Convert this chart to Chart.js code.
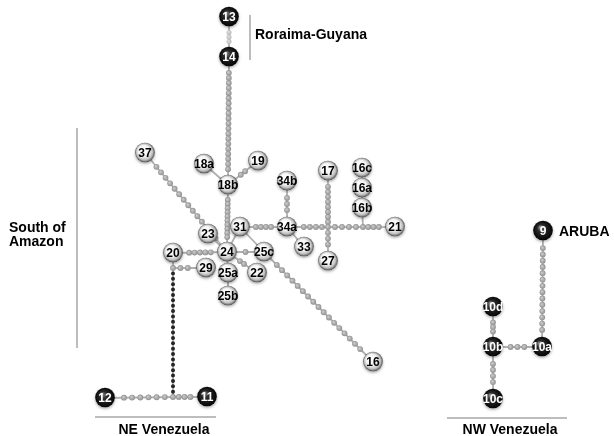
<!DOCTYPE html>
<html>
<head>
<meta charset="utf-8">
<script src="https://cdn.jsdelivr.net/npm/chart.js@4/dist/chart.umd.min.js"></script>
<style>
  html, body { margin: 0; padding: 0; background: #ffffff; }
  canvas { display: block; }
</style>
</head>
<body>
<canvas id="net" width="614" height="436"></canvas>
<script>
// Haplotypes: id, layout position (network units) and sampling region
const haplotypes = ['13','14','18b','18a','19','37','23','24','31','20','29','25a','25b','25c','22',
                    '34b','34a','33','17','27','16c','16a','16b','21','16','12','11','9','10d','10b','10a','10c'];
const hapX = [229,229,228,204,258,145,208,227,240,173,206,228,228,264,257,
              287,287,304,328,328,362,362,362,395,373,105,207,543,493,493,542,493];
const hapY = [17,57,185,164,161,153,234,252,227,253,268,273,296,252,273,
              181,227,247,171,261,168,188,208,227,362,398,397,231,307,347,347,399];
const hapRegion = ['RG','RG','SA','SA','SA','SA','SA','SA','SA','SA','SA','SA','SA','SA','SA',
                   'SA','SA','SA','SA','SA','SA','SA','SA','SA','SA','NE','NE','AR','NW','NW','NW','NW'];

// Median vectors (unsampled nodes)
const medianIds = ['mv1','mv2','mv3','mv4'];
const medianX = [328,363,173,173];
const medianY = [227,227,268,397];

// Network links and number of mutational steps on each
const linkFrom  = ['13','14','18b','18b','18b','37','23','31','31','31','34b','34a','34a','mv1','mv2','mv1','mv1','mv2','16b','16a',
                   '24','24','24','25a','24','25c','20','mv3','mv3','mv4','mv4','9','10d','10b','10b'];
const linkTo    = ['14','18b','18a','19','24','24','24','24','25c','34a','34a','33','mv1','mv2','21','17','27','16b','16a','16c',
                   '25c','22','25a','25b','20','16','mv3','29','mv4','12','11','10a','10b','10a','10c'];
const linkSteps = [3,20,0,2,10,14,0,0,0,4,3,0,4,4,3,8,3,0,0,0,
                   1,2,0,0,5,17,0,2,23,6,3,14,3,3,4];

const regionNames = ['Roraima-Guyana', 'South of Amazon', 'NE Venezuela', 'NW Venezuela', 'ARUBA'];

// ---- styling ----
const LINE_COLOR = '#b0b0b0';
const NODE_R = 9.8;
const darkRegions = new Set(['RG','NE','NW','AR']);
const darkStepLinks = new Set(['mv3-mv4']);
const faintStepLinks = new Set(['13-14']);
const NODE_FONT = 'bold 12px "Liberation Sans Narrow", "Arial Narrow", "Liberation Sans", Arial, sans-serif';
const REGION_FONT = 'bold 14px "Liberation Sans", Arial, Helvetica, sans-serif';

function sphere(dark) {
  const c = document.createElement('canvas');
  c.width = 30; c.height = 30;
  const g = c.getContext('2d');
  const cx = 15, cy = 14.5;
  g.save();
  g.shadowColor = 'rgba(0,0,0,0.35)';
  g.shadowBlur = 3;
  g.shadowOffsetY = 1.5;
  const grad = g.createRadialGradient(cx - 3, cy - 3.5, 0.5, cx, cy, NODE_R);
  if (dark) {
    grad.addColorStop(0, '#8a8a8a');
    grad.addColorStop(0.35, '#2a2a2a');
    grad.addColorStop(1, '#050505');
  } else {
    grad.addColorStop(0, '#ffffff');
    grad.addColorStop(0.55, '#f3f3f3');
    grad.addColorStop(0.82, '#bdbdbd');
    grad.addColorStop(1, '#505050');
  }
  g.fillStyle = grad;
  g.beginPath(); g.arc(cx, cy, NODE_R, 0, Math.PI * 2); g.fill();
  g.restore();
  return c;
}
const whiteBall = sphere(false);
const darkBall = sphere(true);

// lookup of positions for haplotypes and median vectors
const pos = {};
haplotypes.forEach((id, i) => { pos[id] = { x: hapX[i], y: hapY[i], r: NODE_R }; });
medianIds.forEach((id, i) => { pos[id] = { x: medianX[i], y: medianY[i], r: 0 }; });

const linkDatasets = linkFrom.map((a, i) => ({
  label: a + '-' + linkTo[i],
  data: [{ x: pos[a].x, y: pos[a].y }, { x: pos[linkTo[i]].x, y: pos[linkTo[i]].y }],
  showLine: true,
  borderColor: LINE_COLOR,
  borderWidth: 1.8,
  pointRadius: 0,
  order: 2
}));

const nodeDataset = {
  label: 'haplotypes',
  data: haplotypes.map((id, i) => ({ x: hapX[i], y: hapY[i] })),
  pointStyle: hapRegion.map(r => darkRegions.has(r) ? darkBall : whiteBall),
  pointRadius: NODE_R,
  showLine: false,
  order: 1
};

const medianDataset = {
  label: 'median vectors',
  data: medianIds.map((id, i) => ({ x: medianX[i], y: medianY[i] })),
  pointRadius: 0,
  showLine: false,
  order: 1
};

function stepDot(ctx, x, y, kind) {
  ctx.save();
  if (kind === 'dark') {
    ctx.fillStyle = '#262626';
    ctx.beginPath(); ctx.arc(x, y, 2.0, 0, Math.PI * 2); ctx.fill();
  } else {
    const r = kind === 'faint' ? 2.5 : 2.9;
    const grad = ctx.createRadialGradient(x - 0.8, y - 0.8, 0.2, x, y, r);
    if (kind === 'faint') {
      grad.addColorStop(0, '#e2e2e2'); grad.addColorStop(1, '#b9b9b9');
    } else {
      grad.addColorStop(0, '#cdcdcd'); grad.addColorStop(1, '#909090');
    }
    ctx.fillStyle = grad;
    ctx.beginPath(); ctx.arc(x, y, r, 0, Math.PI * 2); ctx.fill();
  }
  ctx.restore();
}

const networkPlugin = {
  id: 'network',
  beforeDatasetDraw(chart, args) {
    if (chart.data.datasets[args.index].label !== 'haplotypes') return;
    const ctx = chart.ctx;
    const xs = chart.scales.x, ys = chart.scales.y;
    // mutational steps along each link
    linkFrom.forEach((a, i) => {
      const b = linkTo[i];
      const n = linkSteps[i];
      const key = a + '-' + b;
      const kind = darkStepLinks.has(key) ? 'dark' : (faintStepLinks.has(key) ? 'faint' : 'grey');
      const x1 = xs.getPixelForValue(pos[a].x), y1 = ys.getPixelForValue(pos[a].y);
      const x2 = xs.getPixelForValue(pos[b].x), y2 = ys.getPixelForValue(pos[b].y);
      const len = Math.hypot(x2 - x1, y2 - y1);
      if (!n || !len) return;
      const ux = (x2 - x1) / len, uy = (y2 - y1) / len;
      const s0 = pos[a].r ? pos[a].r + 1 : 0;
      const s1 = len - (pos[b].r ? pos[b].r + 1 : 0);
      for (let k = 1; k <= n; k++) {
        const s = s0 + (s1 - s0) * k / (n + 1);
        stepDot(ctx, x1 + ux * s, y1 + uy * s, kind);
      }
    });
    // median vectors
    const mm = chart.getDatasetMeta(chart.data.datasets.findIndex(d => d.label === 'median vectors'));
    mm.data.forEach(p => stepDot(ctx, p.x, p.y, 'grey'));
  },
  afterDatasetsDraw(chart) {
    const ctx = chart.ctx;
    const xs = chart.scales.x, ys = chart.scales.y;
    const meta = chart.getDatasetMeta(chart.data.datasets.findIndex(d => d.label === 'haplotypes'));
    ctx.save();
    ctx.font = NODE_FONT;
    ctx.textAlign = 'center';
    ctx.textBaseline = 'middle';
    meta.data.forEach((p, i) => {
      ctx.fillStyle = darkRegions.has(hapRegion[i]) ? '#ffffff' : '#000000';
      ctx.fillText(haplotypes[i], p.x, p.y + 0.5);
    });
    ctx.restore();

    // region brackets and names
    const X = v => xs.getPixelForValue(v), Y = v => ys.getPixelForValue(v);
    ctx.save();
    ctx.strokeStyle = '#a8a8a8';
    ctx.lineWidth = 1.5;
    ctx.beginPath();
    ctx.moveTo(X(250), Y(15)); ctx.lineTo(X(250), Y(60));
    ctx.moveTo(X(77), Y(128)); ctx.lineTo(X(77), Y(348));
    ctx.moveTo(X(95), Y(417)); ctx.lineTo(X(216), Y(417));
    ctx.moveTo(X(447), Y(418)); ctx.lineTo(X(567), Y(418));
    ctx.stroke();

    ctx.fillStyle = '#000000';
    ctx.font = REGION_FONT;
    ctx.textBaseline = 'alphabetic';
    ctx.textAlign = 'left';
    ctx.fillText(regionNames[0], X(255), Y(39));
    const sa = regionNames[1].split(' of ');
    ctx.fillText(sa[0] + ' of', X(9), Y(232));
    ctx.fillText(sa[1], X(9), Y(246));
    ctx.fillText(regionNames[4], X(559), Y(236));
    ctx.textAlign = 'center';
    ctx.fillText(regionNames[2], X(164), Y(434));
    ctx.fillText(regionNames[3], X(510), Y(434));
    ctx.restore();
  }
};

new Chart(document.getElementById('net'), {
  type: 'scatter',
  data: { datasets: [...linkDatasets, medianDataset, nodeDataset] },
  options: {
    responsive: false,
    animation: false,
    devicePixelRatio: 1,
    events: [],
    layout: { padding: 0, autoPadding: false },
    scales: {
      x: { type: 'linear', min: 0, max: 614, display: false },
      y: { type: 'linear', min: 0, max: 436, reverse: true, display: false }
    },
    plugins: { legend: { display: false }, tooltip: { enabled: false } }
  },
  plugins: [networkPlugin]
});
</script>
</body>
</html>
